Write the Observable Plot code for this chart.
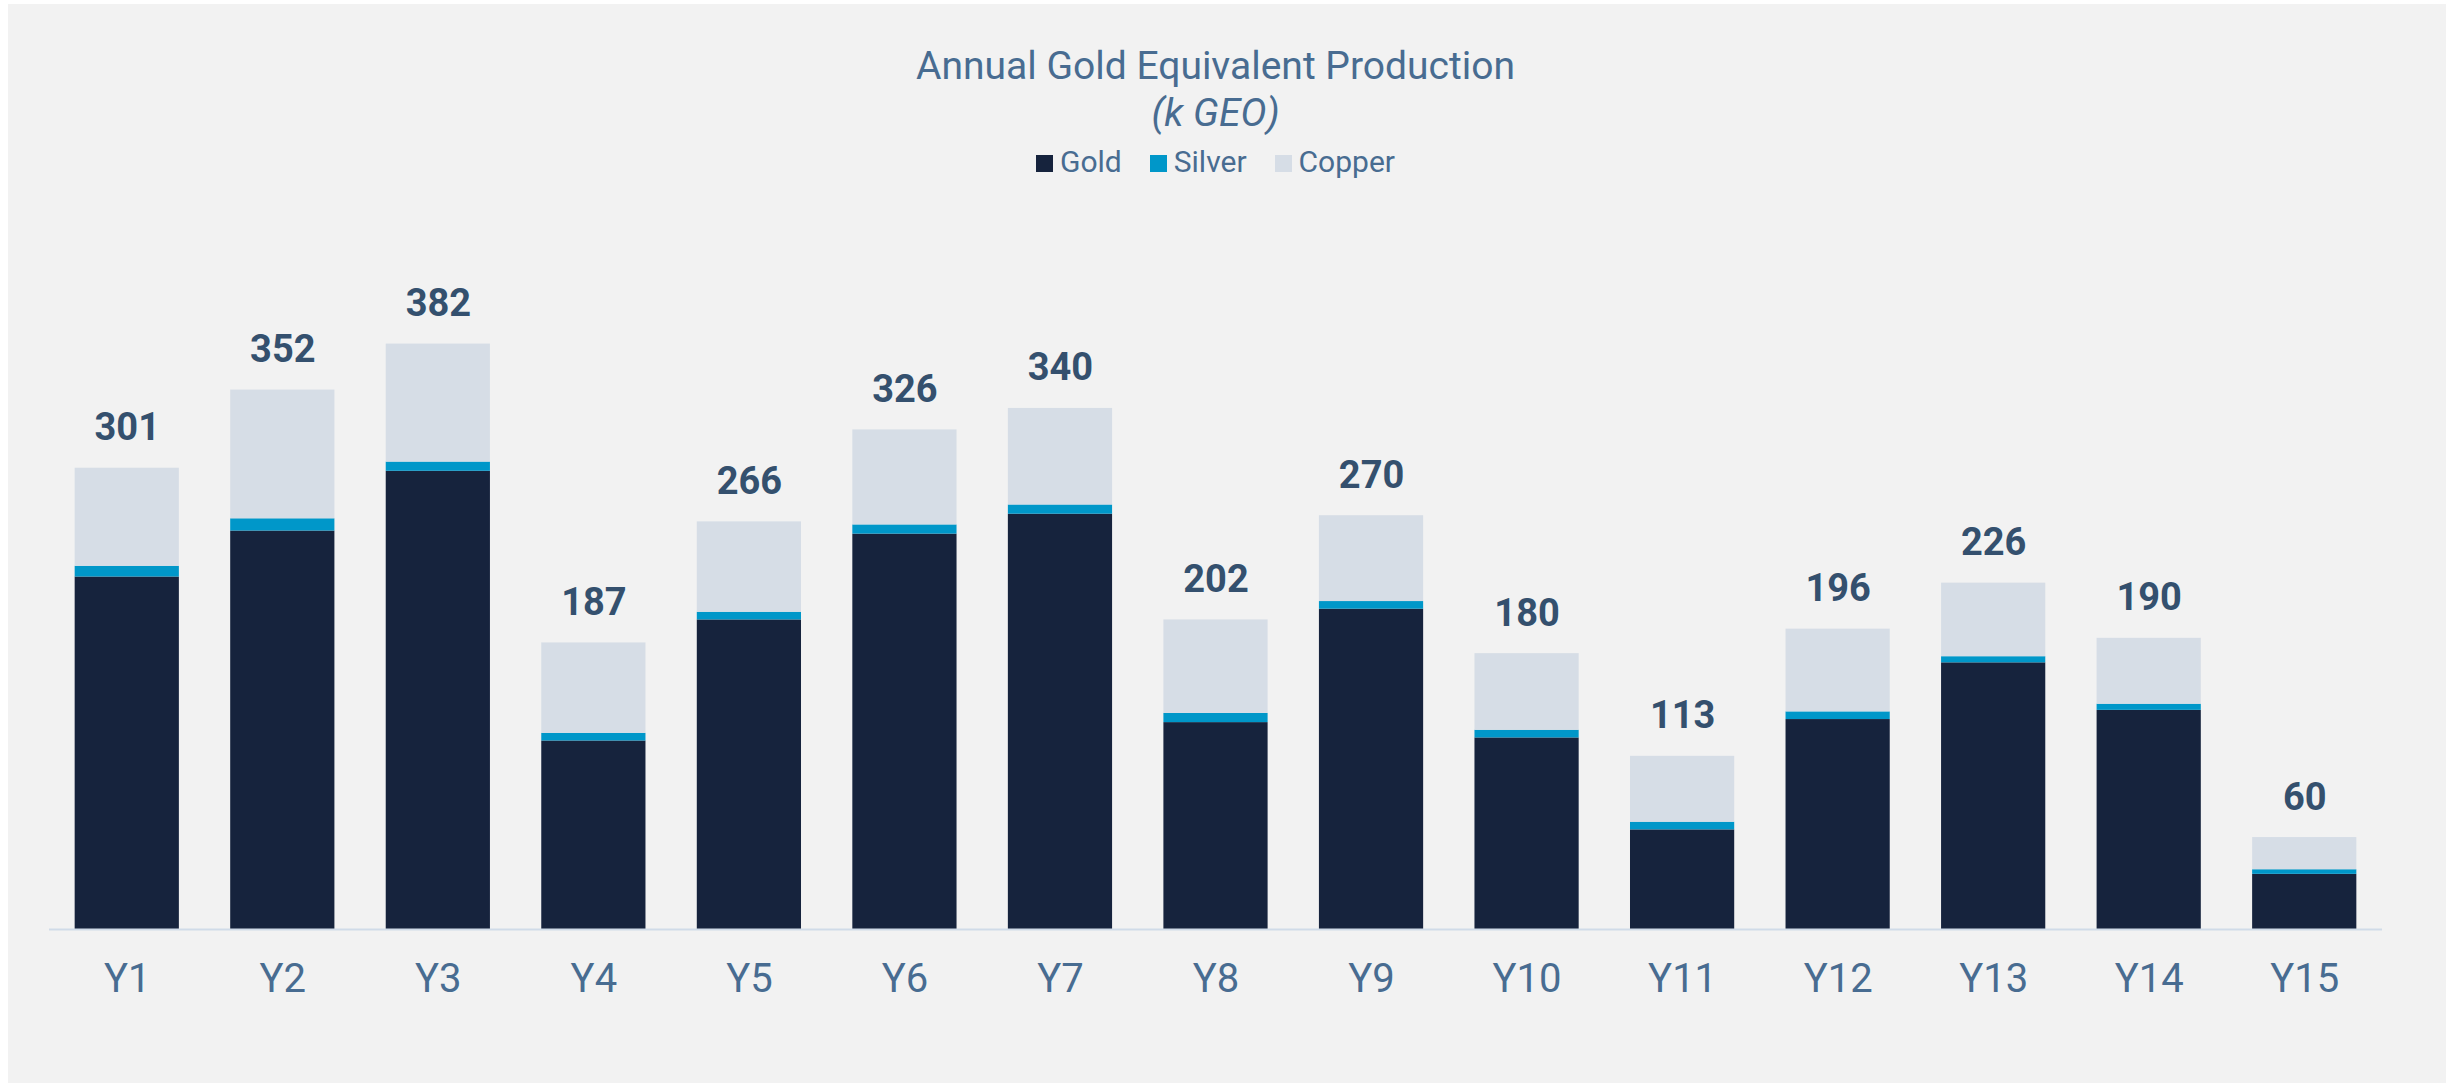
<!DOCTYPE html>
<html>
<head>
<meta charset="utf-8">
<script src="https://cdn.jsdelivr.net/npm/d3@7"></script>
<script src="https://cdn.jsdelivr.net/npm/@observablehq/plot@0.6"></script>
<style>
  html, body { margin: 0; padding: 0; background: #ffffff; }
  #panel {
    position: absolute; left: 8px; top: 4px; width: 2438px; height: 1079px;
    background: #f2f2f2; font-family: Roboto, "Noto Sans", sans-serif;
  }
  #header { position: relative; height: 196px; width: 2438px; }
  .hline { position: absolute; left: 41px; width: 2333px; text-align: center; line-height: 1; color: #486c91; white-space: nowrap; }
  #title { top: 43px; font-size: 39px; }
  #subtitle { top: 90px; font-size: 39px; font-style: italic; }
  #legend { top: 143px; font-size: 30px; }
  .sw { display: inline-block; width: 17px; height: 17px; margin-right: 7px; vertical-align: baseline; }
  .item { margin: 0 14px; }
  #chart svg { display: block; }
</style>
</head>
<body>
<div id="panel">
  <div id="header">
    <div class="hline" id="title">Annual Gold Equivalent Production</div>
    <div class="hline" id="subtitle">(k GEO)</div>
    <div class="hline" id="legend"></div>
  </div>
  <div id="chart"></div>
</div>
<script>
const years = ["Y1","Y2","Y3","Y4","Y5","Y6","Y7","Y8","Y9","Y10","Y11","Y12","Y13","Y14","Y15"];
const gold   = [230, 260, 299, 123, 202, 258, 271, 135, 209, 125, 65, 137, 174, 143, 36];
const silver = [7, 8, 6, 5, 5, 6, 6, 6, 5, 5, 5, 5, 4, 4, 3];
const copper = [64, 84, 77, 59, 59, 62, 63, 61, 56, 50, 43, 54, 48, 43, 21];
const totals = [301, 352, 382, 187, 266, 326, 340, 202, 270, 180, 113, 196, 226, 190, 60];
const seriesNames = ["Gold", "Silver", "Copper"];
const seriesColors = ["#16233d", "#0097c9", "#d6dde6"];

const seriesValues = {Gold: gold, Silver: silver, Copper: copper};
const rows = [];
years.forEach((yr, i) => {
  seriesNames.forEach(s => rows.push({year: yr, series: s, value: seriesValues[s][i]}));
});
const labels = years.map((yr, i) => ({year: yr, total: totals[i]}));

// legend
const legend = document.getElementById("legend");
seriesNames.forEach((s, i) => {
  const span = document.createElement("span");
  span.className = "item";
  span.innerHTML = `<span class="sw" style="background:${seriesColors[i]}"></span>${s}`;
  legend.appendChild(span);
});

const chart = Plot.plot({
  width: 2438,
  height: 883,
  marginLeft: 41,
  marginRight: 64,
  marginTop: 116,
  marginBottom: 154,
  style: {background: "transparent", fontFamily: "Roboto, sans-serif", color: "#486c91", overflow: "visible"},
  x: {domain: years, paddingInner: 0.33, paddingOuter: 0.165, round: false, label: null},
  y: {domain: [0, 400], axis: null},
  color: {domain: seriesNames, range: seriesColors},
  marks: [
    Plot.barY(rows, {x: "year", y: "value", fill: "series", order: seriesNames}),
    Plot.ruleY([0], {stroke: "#d0dbe8", strokeWidth: 2}),
    Plot.text(labels, {x: "year", y: "total", text: d => String(d.total), dy: -28, lineAnchor: "bottom",
      fontSize: 38, fontWeight: "bold", fill: "#34506e"}),
    Plot.axisX({tickSize: 0, tickPadding: 34, fontSize: 40, fill: "#486c91", label: null})
  ]
});
document.getElementById("chart").appendChild(chart);
</script>
</body>
</html>
